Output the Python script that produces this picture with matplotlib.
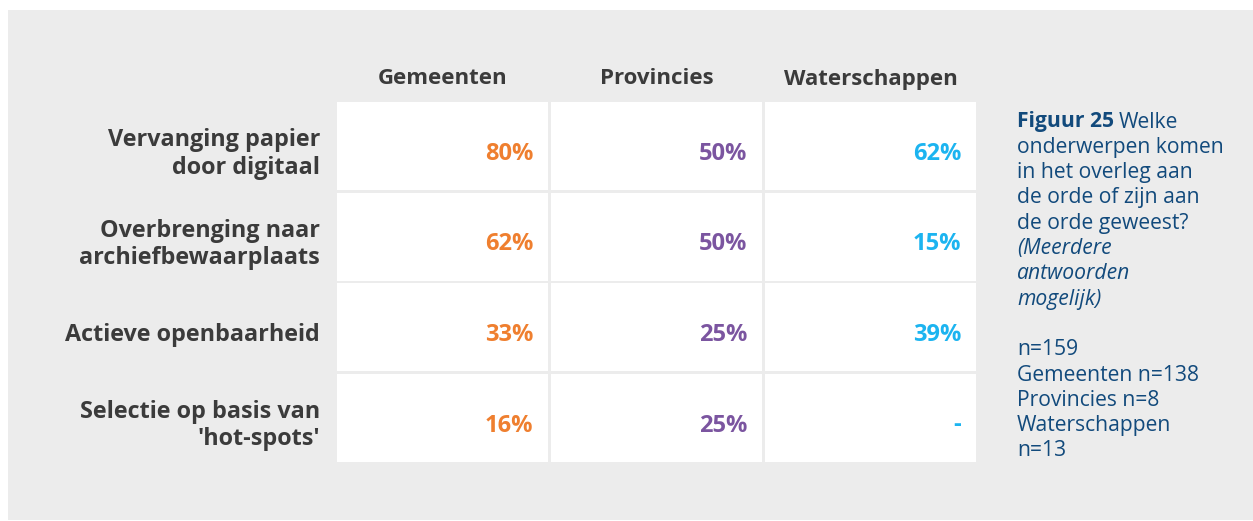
import matplotlib
matplotlib.use("Agg")
import matplotlib.pyplot as plt
from matplotlib.patches import Rectangle

# data
groups = ["Gemeenten", "Provincies", "Waterschappen"]
topics = [
    "Vervanging papier\ndoor digitaal",
    "Overbrenging naar\narchiefbewaarplaats",
    "Actieve openbaarheid",
    "Selectie op basis van\n'hot-spots'",
]
gemeenten = ["80%", "62%", "33%", "16%"]
provincies = ["50%", "50%", "25%", "25%"]
waterschappen = ["62%", "15%", "39%", "-"]
group_colors = ["#EF7F2F", "#7B55A0", "#1CB4F0"]
caption_lines = [
    "onderwerpen komen",
    "in het overleg aan",
    "de orde of zijn aan",
    "de orde geweest?",
]
caption_italic = ["(Meerdere", "antwoorden", "mogelijk)"]
sample_lines = ["n=159", "Gemeenten n=138", "Provincies n=8", "Waterschappen", "n=13"]

values = [gemeenten, provincies, waterschappen]

W, H = 1253, 521
fig = plt.figure(figsize=(W / 100, H / 100), dpi=100)
ax = fig.add_axes([0, 0, 1, 1])
ax.set_xlim(0, W)
ax.set_ylim(H, 0)
ax.axis("off")

font = "Open Sans"
text_col = "#3b3b3b"
cap_col = "#124a7c"

# panel background
ax.add_patch(Rectangle((8, 10), W - 8, H - 11, color="#ececec", lw=0))

x0, col_w, col_gap = 337, 211, 3
y0, row_h, row_pitch = 102, 88, 90.5

for j, g in enumerate(groups):
    cx = x0 + j * (col_w + col_gap)
    ax.text(cx + col_w / 2, 79, g, ha="center", va="center", fontsize=16,
            fontweight="bold", color=text_col, family=font)
    for i, v in enumerate(values[j]):
        cy = y0 + i * row_pitch
        ax.add_patch(Rectangle((cx, cy), col_w, row_h, color="white", lw=0))
        ax.text(cx + col_w - 15, cy + row_h / 2 + 8, v, ha="right", va="center",
                fontsize=17, fontweight="bold", color=group_colors[j], family=font)

for i, t in enumerate(topics):
    cy = y0 + i * row_pitch
    ax.text(320, cy + row_h / 2 + 8, t, ha="right", va="center", fontsize=16.8,
            fontweight="bold", color=text_col, family=font, linespacing=1.2)

# caption
cap_x, cap_y, pitch = 1017, 122, 25.3
fs = 15.2
t1 = ax.text(cap_x, cap_y, "Figuur 25", ha="left", va="center", fontsize=fs,
             fontweight="bold", color=cap_col, family=font)
fig.canvas.draw()
bb = t1.get_window_extent()
ax.text(bb.x1 + 5, cap_y, "Welke", ha="left", va="center", fontsize=fs,
        color=cap_col, family=font)
y = cap_y
for line in caption_lines:
    y += pitch
    ax.text(cap_x, y, line, ha="left", va="center", fontsize=fs, color=cap_col, family=font)
for line in caption_italic:
    y += pitch
    ax.text(cap_x, y, line, ha="left", va="center", fontsize=fs, color=cap_col,
            family=font, style="italic")
y += pitch
for line in sample_lines:
    y += pitch
    ax.text(cap_x, y, line, ha="left", va="center", fontsize=fs, color=cap_col, family=font)

fig.savefig("out.png", dpi=100)
